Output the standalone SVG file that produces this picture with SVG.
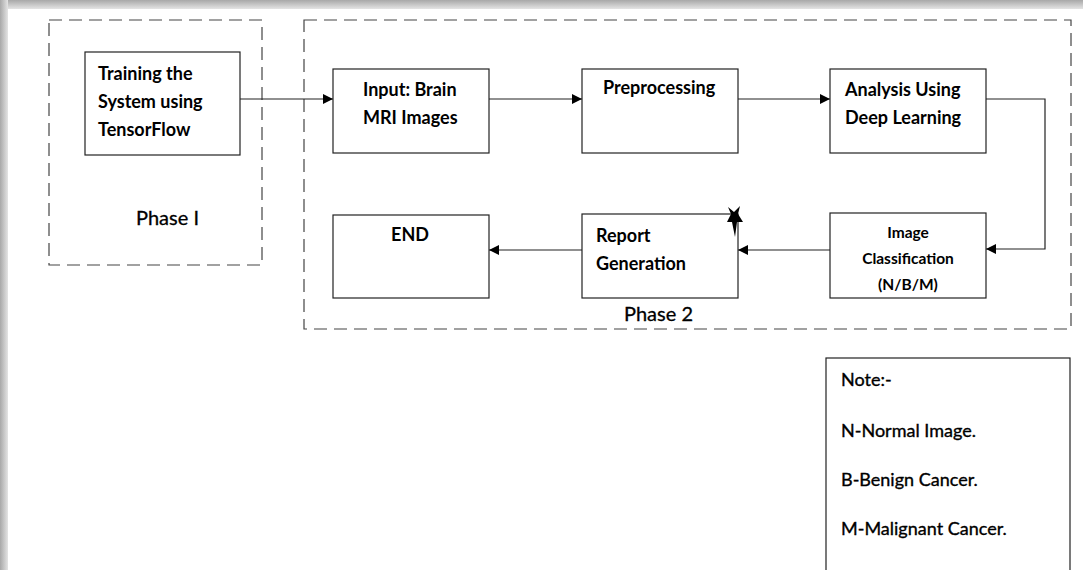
<svg xmlns="http://www.w3.org/2000/svg" width="1083" height="570" viewBox="0 0 1083 570">
<defs>
<linearGradient id="gTop" x1="0" y1="0" x2="0" y2="1">
<stop offset="0" stop-color="#a8a8a8"/><stop offset="1" stop-color="#e4e4e4"/>
</linearGradient>
<linearGradient id="gLeft" x1="0" y1="0" x2="1" y2="0">
<stop offset="0" stop-color="#a8a8a8"/><stop offset="1" stop-color="#e4e4e4"/>
</linearGradient>
<marker id="arr" viewBox="0 0 10 10" refX="10" refY="5" markerWidth="10" markerHeight="10" markerUnits="userSpaceOnUse" orient="auto">
<path d="M0,0 L10,5 L0,10 Z" fill="#000"/>
</marker>
<style>
.box{fill:#fff;stroke:#222;stroke-width:1.2}
.dash{fill:none;stroke:#444;stroke-width:1.2;stroke-dasharray:13,7}
.t{font-family:Lato,"Liberation Sans",sans-serif;font-weight:bold;font-size:18px;fill:#000}
.ts{font-family:Lato,"Liberation Sans",sans-serif;font-weight:bold;font-size:15.5px;fill:#000}
.tr{font-family:Lato,"Liberation Sans",sans-serif;font-size:18px;fill:#000;stroke:#000;stroke-width:0.35}
.tp{font-family:Lato,"Liberation Sans",sans-serif;font-size:20px;fill:#000;stroke:#000;stroke-width:0.3}
.c{fill:none;stroke:#222;stroke-width:1.2}
</style>
</defs>
<rect x="0" y="0" width="1083" height="570" fill="#fff"/>
<rect x="0" y="0" width="1083" height="9" fill="url(#gTop)"/>
<rect x="0" y="0" width="8" height="570" fill="url(#gLeft)"/>

<g id="phase1">
<rect class="dash" x="49" y="20" width="213" height="245"/>
<text class="tp" x="136" y="225">Phase I</text>
</g>
<g id="phase2">
<rect class="dash" x="304" y="20" width="767" height="309"/>
<text class="tp" x="624" y="321">Phase 2</text>
</g>

<g id="connectors">
<line class="c" x1="240" y1="99" x2="333" y2="99" marker-end="url(#arr)"/>
<line class="c" x1="489" y1="99" x2="582" y2="99" marker-end="url(#arr)"/>
<line class="c" x1="738" y1="99" x2="830" y2="99" marker-end="url(#arr)"/>
<polyline class="c" points="986,99 1045,99 1045,249 986,249" marker-end="url(#arr)"/>
<line class="c" x1="830" y1="250" x2="738" y2="250" marker-end="url(#arr)"/>
<line class="c" x1="582" y1="250" x2="489" y2="250" marker-end="url(#arr)"/>
</g>

<g id="training">
<rect class="box" x="85" y="52" width="155" height="103"/>
<text class="t" x="98" y="80">Training the</text>
<text class="t" x="98" y="108">System using</text>
<text class="t" x="98" y="136">TensorFlow</text>
</g>
<g id="input">
<rect class="box" x="333" y="69" width="156" height="84"/>
<text class="t" x="363" y="96">Input: Brain</text>
<text class="t" x="363" y="124">MRI Images</text>
</g>
<g id="preprocessing">
<rect class="box" x="582" y="69" width="156" height="84"/>
<text class="t" x="603" y="94">Preprocessing</text>
</g>
<g id="analysis">
<rect class="box" x="830" y="69" width="156" height="84"/>
<text class="t" x="845" y="96">Analysis Using</text>
<text class="t" x="845" y="124">Deep Learning</text>
</g>
<g id="classification">
<rect class="box" x="830" y="213" width="156" height="85"/>
<text class="ts" x="908" y="238" text-anchor="middle">Image</text>
<text class="ts" x="908" y="264" text-anchor="middle">Classification</text>
<text class="ts" x="908" y="290" text-anchor="middle">(N/B/M)</text>
</g>
<g id="report">
<rect class="box" x="582" y="214" width="156" height="84"/>
<text class="t" x="596" y="242">Report</text>
<text class="t" x="596" y="270">Generation</text>
<path d="M728,207 L734,212 L740,206 L738,214 L743,222 L737,222 L735,237 L732,222 L727,222 L731,214 Z" fill="#000"/>
</g>
<g id="end">
<rect class="box" x="333" y="215" width="156" height="83"/>
<text class="t" x="410" y="241" text-anchor="middle">END</text>
</g>
<g id="note">
<rect class="box" x="826" y="358" width="244" height="220"/>
<text class="tr" x="841" y="386">Note:-</text>
<text class="tr" x="841" y="437">N-Normal Image.</text>
<text class="tr" x="841" y="486">B-Benign Cancer.</text>
<text class="tr" x="841" y="535">M-Malignant Cancer.</text>
</g>
</svg>
